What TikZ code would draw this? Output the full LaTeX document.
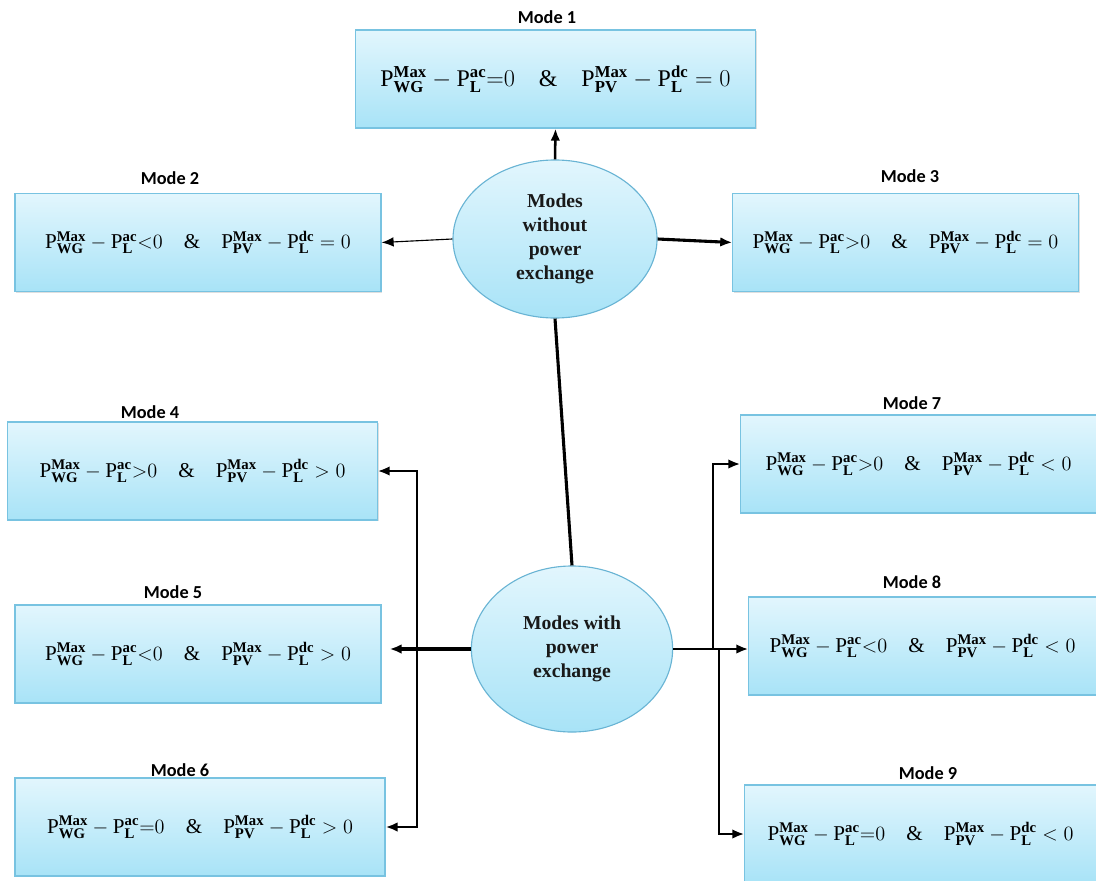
\documentclass[tikz,border=0pt]{standalone}
\usepackage{fontspec}
\setmainfont{Liberation Serif}
\newfontfamily\labelfont{Carlito}
\usetikzlibrary{arrows.meta,shadows,shapes.geometric}

\definecolor{boxtop}{RGB}{226,246,253}
\definecolor{boxbottom}{RGB}{168,227,247}
\definecolor{boxline}{RGB}{120,195,225}
\definecolor{hubline}{RGB}{105,180,212}

\newcommand{\Pmax}[1]{\mathrm{P}^{\mathbf{Max}}_{\mathbf{#1}}}
\newcommand{\Pld}[1]{\mathrm{P}^{\mathbf{#1}}_{\mathbf{L}}}
\newcommand{\modeeq}[2]{$\Pmax{WG}-\Pld{ac}{#1}0$\quad\&\quad$\Pmax{PV}-\Pld{dc}#2 0$}

\begin{document}
\begin{tikzpicture}[
    x=0.025cm, y=-0.025cm,
    modebox/.style={
        rectangle,
        draw=boxline,
        line width=0.8pt,
        top color=boxtop,
        bottom color=boxbottom,
        minimum height=2.45cm,
        inner sep=0pt,
        drop shadow={opacity=0.25, shadow xshift=1pt, shadow yshift=-1pt},
        font=\fontsize{15}{18}\selectfont
    },
    hub/.style={
        ellipse,
        draw=hubline,
        line width=0.8pt,
        top color=boxtop,
        bottom color=boxbottom,
        inner sep=0pt,
        align=center,
        text=black!90,
        font=\fontsize{14}{17}\selectfont\bfseries
    },
    modelabel/.style={font=\labelfont\bfseries\fontsize{13}{15}\selectfont},
    link/.style={-{Latex[length=3mm,width=2.4mm]}, line width=1.8pt}
]

\useasboundingbox (0,0) rectangle (1096,880);

% Hubs
\node[hub, minimum width=5.1cm, minimum height=3.95cm] (e1) at (555,239)
    {Modes\\without\\power\\exchange};
\node[hub, minimum width=5.03cm, minimum height=4.15cm] (e2) at (572,649)
    {Modes with\\power\\exchange};

% Modes without power exchange
\node[modebox, minimum width=9.98cm, font=\fontsize{17}{20}\selectfont] (m1) at (555.5,79) {\modeeq{=}{=}};
\node[modebox, minimum width=9.15cm] (m2) at (198,242.5) {\modeeq{<}{=}};
\node[modebox, minimum width=8.63cm] (m3) at (905.5,242.5) {\modeeq{>}{=}};

% Modes with power exchange
\node[modebox, minimum width=9.23cm] (m4) at (192.5,471) {\modeeq{>}{>}};
\node[modebox, minimum width=9.15cm] (m5) at (198,654) {\modeeq{<}{>}};
\node[modebox, minimum width=9.25cm] (m6) at (200,827) {\modeeq{=}{>}};
\node[modebox, minimum width=8.88cm] (m7) at (918.5,464) {\modeeq{>}{<}};
\node[modebox, minimum width=8.68cm] (m8) at (922.5,646) {\modeeq{<}{<}};
\node[modebox, minimum width=8.78cm] (m9) at (920.5,834) {\modeeq{=}{<}};

% Labels
\node[modelabel] (l1) at (547,17) {Mode 1};
\node[modelabel] (l2) at (170,178) {Mode 2};
\node[modelabel] (l3) at (910,176) {Mode 3};
\node[modelabel] (l4) at (150,412) {Mode 4};
\node[modelabel] (l5) at (173,592) {Mode 5};
\node[modelabel] (l6) at (180,770) {Mode 6};
\node[modelabel] (l7) at (912,403) {Mode 7};
\node[modelabel] (l8) at (912,582) {Mode 8};
\node[modelabel] (l9) at (928,773) {Mode 9};

% Links from the upper hub
\draw[link] (e1.north) -- (m1.south);
\draw[link, line width=0.8pt] (e1.west) -- (m2.east);
\draw[link, line width=2.2pt] (e1.east) -- (m3.west);
\draw[line width=2.2pt] (e1.south) -- (e2.north);

% Links from the lower hub
\coordinate (lj) at (417,649);
\coordinate (rj) at (713,649);
\coordinate (rk) at (719,649);
\draw[link, line width=2.8pt, shorten >=0.2cm] (e2.west) -- (e2.west -| m5.east);
\draw[link] (lj) |- (m4.east);
\draw[link] (lj) |- (m6.east);
\draw[link] (e2.east) -- (e2.east -| m8.west);
\draw[link] (rj) |- (m7.west);
\draw[link] (rk) |- (m9.west);

\end{tikzpicture}
\end{document}
